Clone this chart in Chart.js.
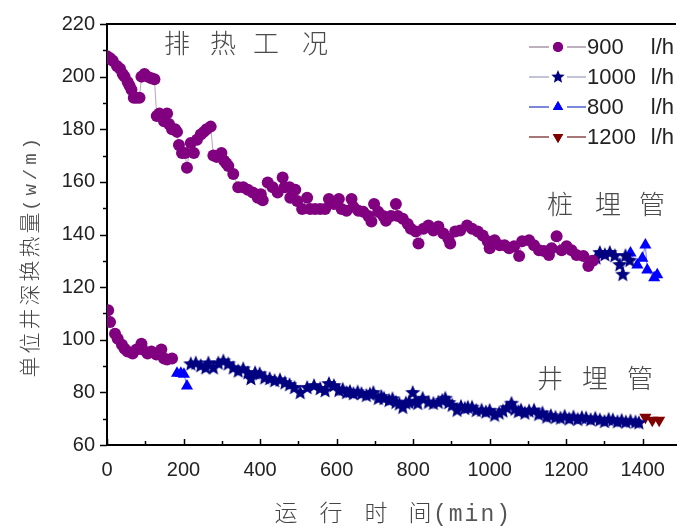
<!DOCTYPE html>
<html>
<head>
<meta charset="utf-8">
<script src="https://cdn.jsdelivr.net/npm/chart.js@4"></script>
<style>
  body { margin: 0; background: #fff; }
  #wrap { width: 684px; height: 530px; }
</style>
</head>
<body>
<div id="wrap"><canvas id="myChart"></canvas></div>
<script>
// 900 l/h - upper (pile) curve
const t900Up = [0, 8, 15, 26, 34, 41, 46, 54, 59, 64, 70, 77, 85, 90, 98, 106, 116, 124, 130, 137, 149, 157, 162, 170, 178, 183, 188, 196, 204, 209, 219, 227, 235, 245, 253, 260, 271, 278, 286, 299, 306, 312, 317, 330, 343, 356, 368, 381, 394, 402, 407, 420, 433, 446, 459, 464, 477, 479, 492, 497, 510, 523, 531, 544, 557, 570, 580, 593, 606, 613, 626, 639, 644, 657, 670, 683, 691, 698, 709, 722, 729, 742, 755, 760, 773, 786, 794, 807, 814, 827, 840, 853, 866, 879, 892, 897, 910, 923, 941, 954, 969, 982, 995, 1000, 1013, 1026, 1039, 1051, 1064, 1077, 1085, 1103, 1116, 1129, 1142, 1155, 1162, 1175, 1188, 1201, 1214, 1227, 1245, 1258, 1270];
const q900Up = [207.7, 207, 206, 204, 203, 201, 200, 198, 196.5, 195, 192, 192, 192, 200, 201, 200, 199.4, 199, 185, 186, 183, 186, 182, 180, 180, 179, 174, 171, 171, 165.4, 174.8, 171, 176, 178, 179, 180, 181, 170, 169.5, 171, 168, 167, 166, 163, 158, 158, 157, 156, 154, 155.3, 153, 159.8, 158, 156, 161.7, 158, 158, 154, 157, 152.7, 149.7, 154, 149.7, 149.7, 149.7, 149.7, 153.5, 151.6, 153.5, 149.7, 149, 153.5, 150.5, 149, 148.6, 147, 144.9, 151.6, 148.6, 147, 145.2, 147, 151.6, 147, 146, 144, 142.2, 141.1, 136.6, 142.2, 143.4, 141.5, 143, 140.4, 138.5, 136.6, 141.1, 141.5, 143.4, 142.2, 141.1, 139.6, 137.4, 134.8, 137.8, 135.9, 135.9, 134.8, 135.5, 131.8, 137.4, 137.8, 135.9, 134, 133.7, 132.2, 134.8, 139.3, 134, 135.5, 134, 132.2, 131.8, 128, 130];

// 900 l/h - lower (well) curve
const t900Low = [3, 8, 21, 28, 39, 46, 54, 67, 77, 90, 93, 106, 116, 129, 142, 149, 157, 170];
const q900Low = [111.2, 106.7, 102.3, 100.4, 98.1, 96.6, 95.5, 94.8, 96.3, 98.5, 96.3, 94.8, 95.5, 94.4, 96.3, 92.9, 92.5, 92.9];

// 1000 l/h
const t1000Up = [1278, 1288, 1301, 1314, 1327, 1340, 1348, 1355, 1366];
const q1000Up = [131, 133, 132.2, 133, 131.8, 128.4, 124.7, 131.8, 130];
const t1000Low = [219, 232, 245, 258, 265, 278, 291, 304, 317, 330, 343, 356, 368, 376, 387, 399, 412, 425, 438, 452, 465, 477, 490, 505, 523, 541, 557, 570, 580, 593, 606, 616, 626, 635, 644, 655, 665, 678, 687, 696, 709, 717, 724, 737, 746, 755, 764, 773, 781, 789, 799, 806, 812, 825, 840, 853, 866, 876, 884, 893, 902, 915, 925, 935, 943, 954, 965, 979, 990, 1000, 1013, 1025, 1035, 1045, 1057, 1066, 1075, 1082, 1092, 1103, 1116, 1128, 1138, 1149, 1160, 1172, 1185, 1196, 1208, 1219, 1230, 1241, 1252, 1264, 1276, 1288, 1300, 1311, 1322, 1334, 1345, 1356, 1368, 1381, 1390];
const q1000Low = [90.7, 91, 90, 89.2, 91, 89.2, 91, 91.8, 90.7, 89.2, 88, 88.8, 87.3, 85.1, 87.3, 86.9, 85.4, 85.1, 84.3, 84.6, 83.5, 82.8, 81.7, 79.8, 81.7, 82.4, 81.3, 80.5, 83.2, 82.4, 80.6, 81, 79.8, 80.2, 79.4, 80, 79.4, 78.7, 79.2, 79.8, 77.6, 78.3, 77.6, 76.8, 77.4, 76.1, 75.5, 74.2, 75.8, 76.1, 79.8, 76.5, 75.7, 77.6, 76.1, 75.7, 76.1, 76.8, 77.6, 76, 75, 73.1, 74.5, 73.8, 74.2, 74.2, 73, 73.1, 72.4, 73, 71.2, 72, 72.8, 74, 75.7, 73.5, 72.6, 73.1, 72, 72.8, 73.1, 71.5, 72, 70.5, 71, 70.4, 70.1, 70.8, 69.8, 70.5, 69.6, 70.3, 70.1, 69.5, 70, 69.4, 68.8, 69.6, 69.4, 68.7, 69.2, 68.6, 69, 68.6, 68.3];

// 800 l/h
const t800Up = [1368, 1386, 1399, 1407, 1412, 1430, 1438];
const q800Up = [133, 128.4, 131, 136, 126.5, 123.6, 124.7];
const t800Low = [183, 193, 201, 209];
const q800Low = [87.3, 87.3, 86.9, 82.4];

// 1200 l/h
const t1200 = [1407, 1425, 1443];
const q1200 = [70.5, 69.4, 69.4];

const seriesNames = ['900', '1000', '800', '1200'];
const xTicks = [0, 200, 400, 600, 800, 1000, 1200, 1400];
const yTicks = [60, 80, 100, 120, 140, 160, 180, 200, 220];

const toXY = (xs, ys) => xs.map((x, i) => ({ x: x, y: ys[i] }));

// filled five-point star used as the point style of the 1000 l/h series
function makeStar(color, r) {
    const c = document.createElement('canvas');
    c.width = c.height = r * 2 + 2;
    const g = c.getContext('2d');
    g.fillStyle = color;
    g.beginPath();
    for (let i = 0; i < 10; i++) {
        const rad = i % 2 === 0 ? r : r * 0.45;
        const a = -Math.PI / 2 + i * Math.PI / 5;
        const px = r + 1 + rad * Math.cos(a);
        const py = r + 1 + rad * Math.sin(a);
        if (i === 0) g.moveTo(px, py); else g.lineTo(px, py);
    }
    g.closePath();
    g.fill();
    return c;
}
const star = makeStar('#000080', 8);
const smallStar = makeStar('#000080', 7);

const styles = {
    '900': { color: '#800080', line: 'rgba(150,100,150,0.6)', legendLine: '#a898a8', pointStyle: 'circle', radius: 6, rotation: 0 },
    '1000': { color: '#000080', line: 'rgba(120,120,180,0.6)', legendLine: '#b0b0cc', pointStyle: star, radius: 8, rotation: 0 },
    '800': { color: '#0000ff', line: 'rgba(60,60,255,0.7)', legendLine: '#5060d0', pointStyle: 'triangle', radius: 7, rotation: 0 },
    '1200': { color: '#800000', line: 'rgba(128,30,30,0.7)', legendLine: '#8a4a4a', pointStyle: 'triangle', radius: 7, rotation: 180 }
};

function ds(name, xs, ys) {
    const s = styles[name];
    return {
        label: name,
        data: toXY(xs, ys),
        borderColor: s.line,
        borderWidth: 1,
        backgroundColor: s.color,
        pointBackgroundColor: s.color,
        pointBorderColor: s.color,
        pointBorderWidth: 0,
        pointStyle: s.pointStyle,
        pointRadius: s.radius,
        pointRotation: s.rotation,
        tension: 0
    };
}

const cjkFont = "'Liberation Mono', 'Noto Sans CJK SC', monospace";

function spaced(ctx, parts, y) {
    parts.forEach(p => ctx.fillText(p[0], p[1], y));
}

// frame, tick marks, titles, annotations and legend
const decor = {
    id: 'decor',
    afterDraw(chart) {
        const ctx = chart.ctx;
        const xs = chart.scales.x, ys = chart.scales.y;
        const a = chart.chartArea;
        ctx.save();
        ctx.strokeStyle = '#000';
        ctx.lineWidth = 2;
        ctx.beginPath();
        ctx.moveTo(a.left - 1, a.top);
        ctx.lineTo(a.right, a.top);
        ctx.stroke();

        ctx.lineWidth = 1.5;
        for (let v = 60; v <= 220; v += 10) {
            const py = Math.round(ys.getPixelForValue(v)) + 0.5;
            const len = v % 20 === 0 ? 7 : 4;
            ctx.beginPath();
            ctx.moveTo(a.left, py);
            ctx.lineTo(a.left - len, py);
            ctx.stroke();
        }
        for (let v = 0; v <= 1400; v += 100) {
            const px = Math.round(xs.getPixelForValue(v)) + 0.5;
            const len = v % 200 === 0 ? 6 : 4;
            ctx.beginPath();
            ctx.moveTo(px, a.bottom);
            ctx.lineTo(px, a.bottom - len);
            ctx.stroke();
        }

        // axis titles
        ctx.fillStyle = '#444';
        ctx.textBaseline = 'middle';
        ctx.textAlign = 'center';
        ctx.font = '300 23px ' + cjkFont;
        spaced(ctx, [['运', 286], ['行', 331], ['时', 376], ['间', 420]], 515);
        ctx.textAlign = 'left';
        ctx.fillStyle = '#555';
        ctx.letterSpacing = '2px';
        ctx.fillText('(min)', 433, 515);
        ctx.letterSpacing = '0px';

        ctx.save();
        ctx.translate(31, 0);
        ctx.rotate(-Math.PI / 2);
        ctx.textAlign = 'center';
        ctx.fillStyle = '#444';
        ctx.font = '300 21px ' + cjkFont;
        const yChars = ['单', '位', '井', '深', '换', '热', '量'];
        yChars.forEach((c, i) => ctx.fillText(c, -(367 - i * 24), 0));
        ctx.textAlign = 'left';
        ctx.fillStyle = '#555';
        ctx.font = '300 19px ' + cjkFont;
        ctx.letterSpacing = '4px';
        ctx.fillText('(w/m)', -(367 - 6 * 24) + 12, 0);
        ctx.letterSpacing = '0px';
        ctx.restore();

        // annotations
        ctx.textAlign = 'center';
        ctx.fillStyle = '#4a4a4a';
        ctx.font = '300 26px ' + cjkFont;
        spaced(ctx, [['排', 177], ['热', 223], ['工', 266], ['况', 315]], 46);
        spaced(ctx, [['桩', 560], ['埋', 608], ['管', 652]], 207);
        spaced(ctx, [['井', 550], ['埋', 595], ['管', 640]], 381);

        // legend
        ctx.font = '22px "Liberation Sans", Arial, sans-serif';
        seriesNames.forEach((name, i) => {
            const s = styles[name];
            const y = 47 + i * 30;
            ctx.strokeStyle = s.legendLine;
            ctx.lineWidth = 1.5;
            ctx.beginPath();
            ctx.moveTo(529, y); ctx.lineTo(549, y);
            ctx.moveTo(567, y); ctx.lineTo(586, y);
            ctx.stroke();
            if (s.pointStyle === star) {
                ctx.drawImage(smallStar, 558 - smallStar.width / 2, y - smallStar.height / 2);
            } else {
                ctx.fillStyle = s.color;
                ctx.strokeStyle = s.color;
                Chart.helpers.drawPoint(ctx, { pointStyle: s.pointStyle, radius: s.radius - 1, rotation: s.rotation, borderWidth: 0 }, 558, y);
                ctx.fill();
            }
            ctx.fillStyle = '#222';
            ctx.textAlign = 'left';
            ctx.fillText(name, 587, y + 1);
            ctx.textAlign = 'right';
            ctx.fillText('l/h', 674, y + 1);
        });
        ctx.restore();
    }
};

const ctx = document.getElementById('myChart').getContext('2d');
const myChart = new Chart(ctx, {
    type: 'line',
    data: {
        datasets: [
            ds('900', t900Up, q900Up),
            ds('900', t900Low, q900Low),
            ds('1000', t1000Low, q1000Low),
            ds('1000', t1000Up, q1000Up),
            ds('800', t800Low, q800Low),
            ds('800', t800Up, q800Up),
            ds('1200', t1200, q1200)
        ]
    },
    options: {
        responsive: true,
        maintainAspectRatio: false,
        animation: false,
        layout: { padding: { top: 17, right: 0, bottom: 0, left: 0 } },
        plugins: {
            legend: { display: false },
            tooltip: { enabled: false }
        },
        scales: {
            x: {
                type: 'linear',
                min: 0,
                max: 1487,
                afterFit(scale) { scale.height = 85; },
                afterBuildTicks(scale) { scale.ticks = xTicks.map(v => ({ value: v })); },
                ticks: {
                    includeBounds: false,
                    maxRotation: 0,
                    padding: 13,
                    color: '#222',
                    callback: v => String(v),
                    font: { family: '"Liberation Sans", Arial, sans-serif', size: 20 }
                },
                grid: { drawOnChartArea: false, drawTicks: false },
                border: { color: '#000', width: 2 }
            },
            y: {
                type: 'linear',
                min: 60,
                max: 220,
                afterFit(scale) { scale.width = 107; },
                afterBuildTicks(scale) { scale.ticks = yTicks.map(v => ({ value: v })); },
                ticks: {
                    padding: 12,
                    color: '#222',
                    callback: v => String(v),
                    font: { family: '"Liberation Sans", Arial, sans-serif', size: 20 }
                },
                grid: { drawOnChartArea: false, drawTicks: false },
                border: { color: '#000', width: 2 }
            }
        }
    },
    plugins: [decor]
});
</script>
</body>
</html>
